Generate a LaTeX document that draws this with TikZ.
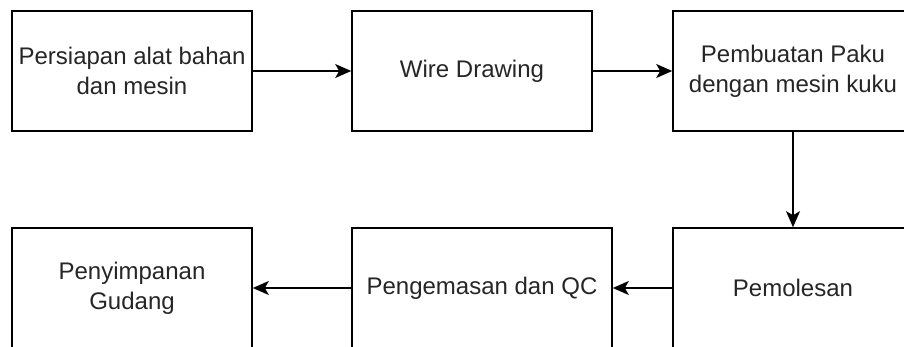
\documentclass[tikz,border=0pt]{standalone}
\usepackage{fontspec}
\setmainfont{Liberation Sans}
\usetikzlibrary{arrows.meta}
\begin{document}
\begin{tikzpicture}[x=1pt,y=-1pt,
  stepbox/.style={draw, line width=1.6pt, fill=white, minimum height=120pt,
    inner sep=0pt, align=center, font=\fontsize{24}{30}\selectfont, text=black!85},
  flow/.style={line width=1.6pt, -{Stealth[length=16pt,width=14pt,inset=4pt]}}]
  \useasboundingbox (0,0) rectangle (904,346);
  % top row
  \node[stepbox, minimum width=240pt] (prep) at (132,71) {Persiapan alat bahan\\dan mesin};
  \node[stepbox, minimum width=240pt] (wire) at (472,71) {Wire Drawing};
  \node[stepbox, minimum width=240pt] (paku) at (793,71) {Pembuatan Paku\\dengan mesin kuku};
  % bottom row
  \node[stepbox, minimum width=240pt] (gudang) at (132,288) {Penyimpanan\\Gudang};
  \node[stepbox, minimum width=260pt] (qc) at (482,288) {Pengemasan dan QC};
  \node[stepbox, minimum width=240pt] (poles) at (793,288) {Pemolesan};
  % connectors
  \draw[flow] (prep) -- (wire);
  \draw[flow] (wire) -- (paku);
  \draw[flow] (paku) -- (poles);
  \draw[flow] (poles) -- (qc);
  \draw[flow] (qc) -- (gudang);
\end{tikzpicture}
\end{document}
